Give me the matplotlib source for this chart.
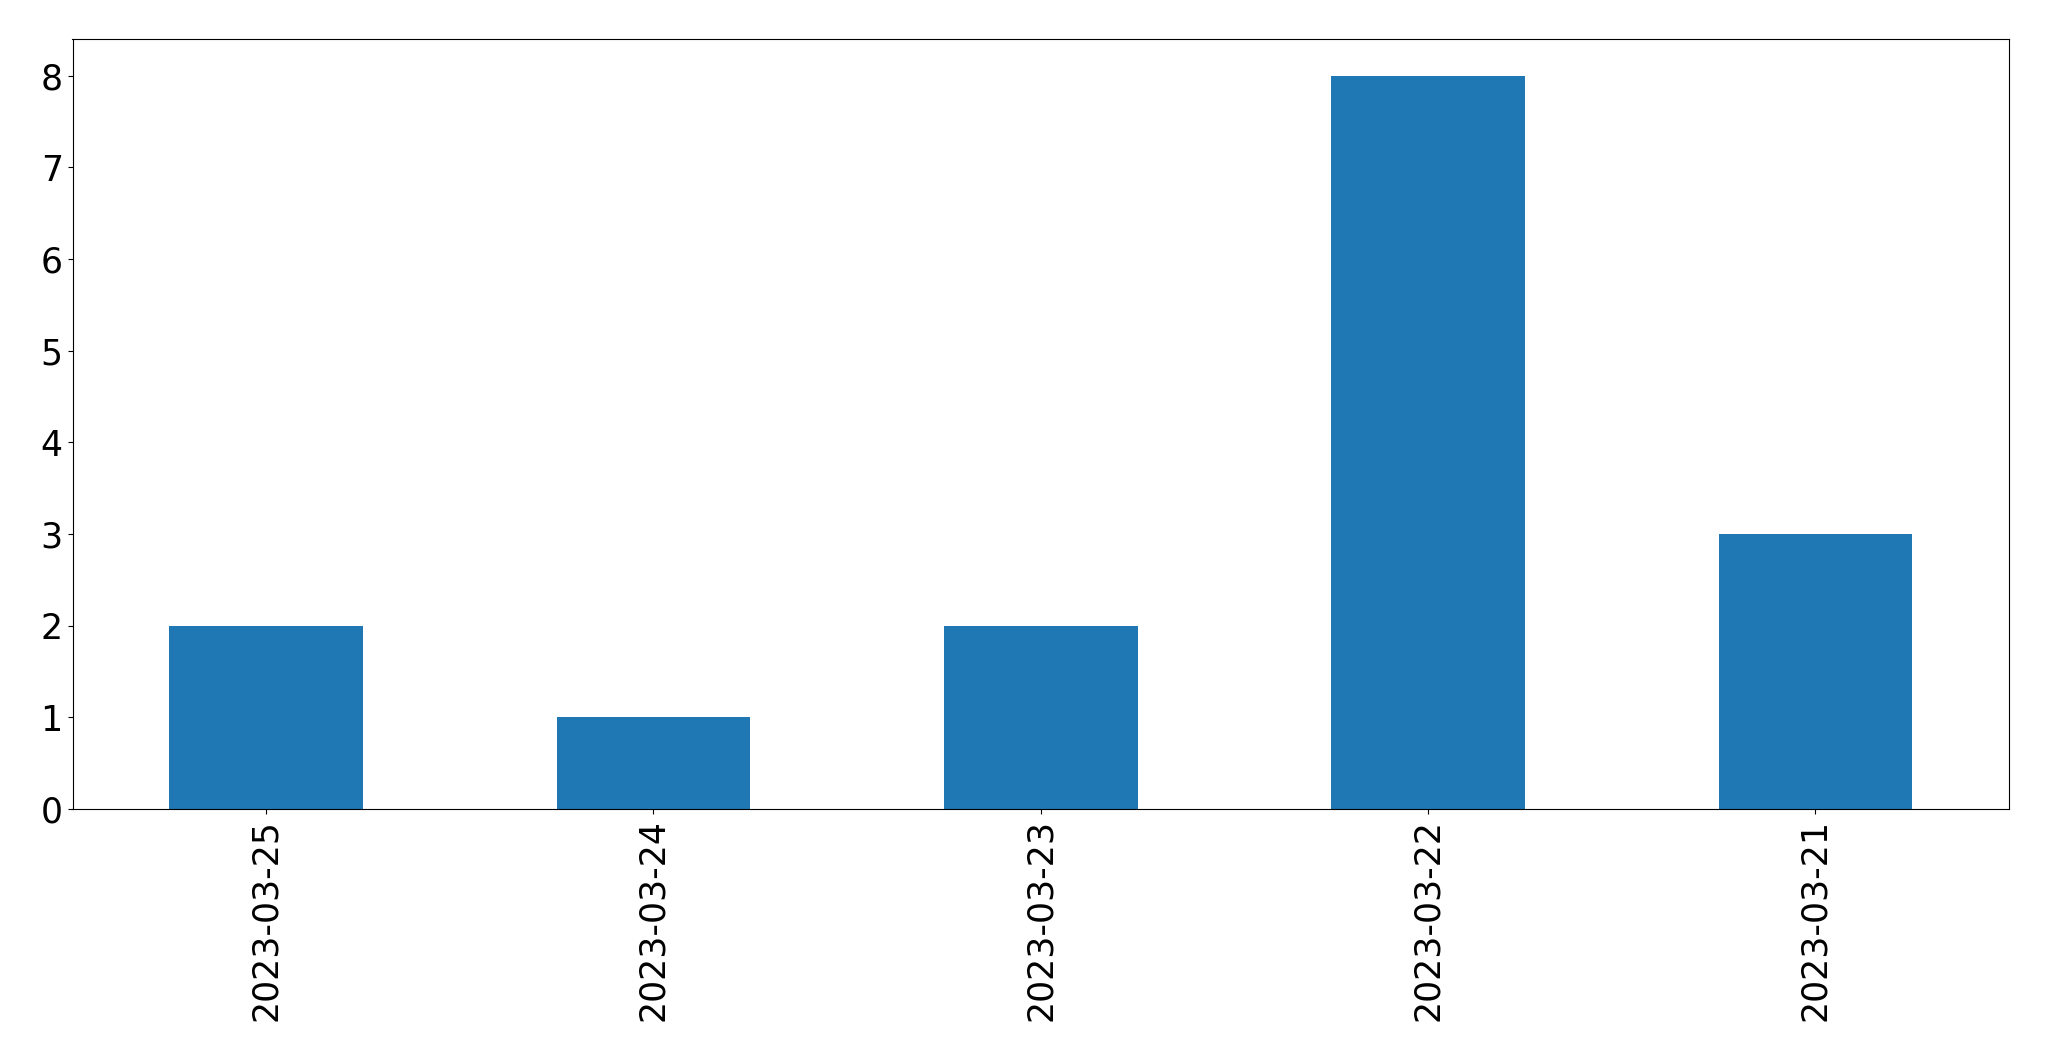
import matplotlib
matplotlib.use("Agg")
import matplotlib.pyplot as plt
import pandas as pd

dates = ["2023-03-25", "2023-03-24", "2023-03-23", "2023-03-22", "2023-03-21"]
counts = [2, 1, 2, 8, 3]

s = pd.Series(counts, index=dates)

fig = plt.figure(figsize=(20.49, 10.61), dpi=100)
ax = fig.add_axes([72.5/2049, 1-809/1061, (2009-72.5)/2049, (809-39)/1061])
s.plot(kind="bar", ax=ax, color="#1f77b4", fontsize=25)
ax.set_xticklabels(dates, rotation=90, fontsize=25)

fig.savefig("out.png", dpi=100)
